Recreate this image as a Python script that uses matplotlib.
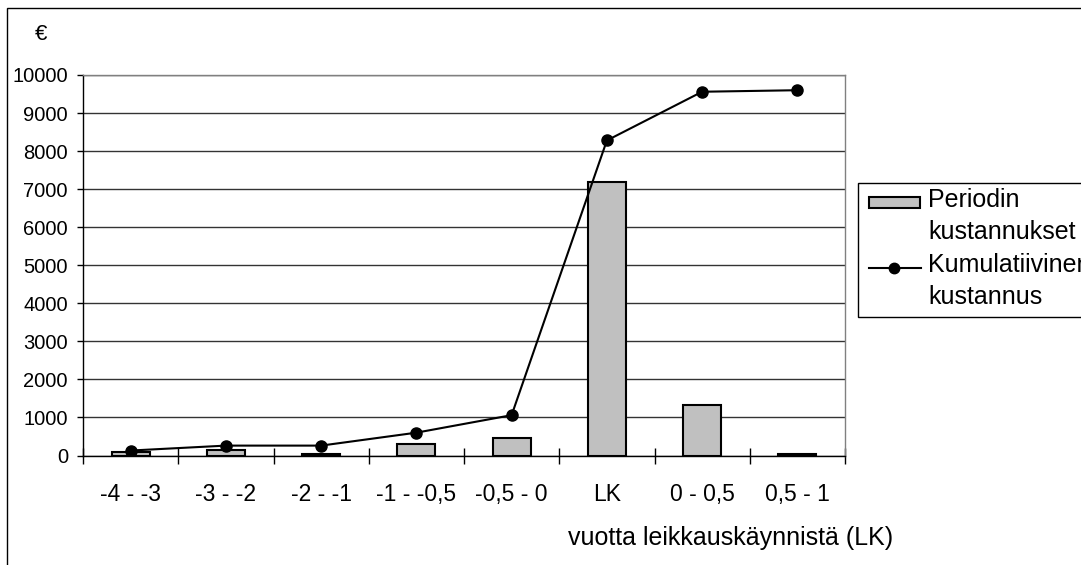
import matplotlib.pyplot as plt
from matplotlib.patches import Rectangle
from matplotlib.lines import Line2D
import numpy as np

plt.rcParams['font.family'] = ['Liberation Sans', 'DejaVu Sans']

# periods relative to the surgery visit (LK)
periods = ['-4 - -3', '-3 - -2', '-2 - -1', '-1 - -0,5', '-0,5 - 0', 'LK', '0 - 0,5', '0,5 - 1']
period_costs = [100, 150, 30, 300, 450, 7200, 1340, 40]
cumulative_cost = [130, 260, 260, 600, 1060, 8280, 9560, 9600]

W, H = 1081, 565
fig = plt.figure(figsize=(W / 100, H / 100), dpi=100)

# outer chart frame
fig.patches.append(Rectangle((7 / W, -0.1), 1.2, 1 - 8 / H + 0.1, transform=fig.transFigure,
                             fill=False, edgecolor='black', linewidth=1.0))

ax = fig.add_axes([83 / W, 1 - 455.5 / H, (845 - 83) / W, (455.5 - 75) / H])
x = np.arange(len(periods))
ax.bar(x, period_costs, width=0.4, color='#c0c0c0', edgecolor='black', linewidth=1.5, zorder=3)
ax.plot(x, cumulative_cost, color='black', linewidth=1.5, marker='o', markersize=8, zorder=4)

ax.set_xlim(-0.5, len(periods) - 0.5)
ax.set_ylim(0, 10000)
ax.set_yticks(range(0, 10001, 1000))
ax.yaxis.grid(True, color='#333333', linewidth=1.0)
ax.set_axisbelow(True)

ax.set_xticks(x)
ax.set_xticklabels(periods)
ax.set_xticks(np.arange(-0.5, len(periods)), minor=True)
ax.tick_params(axis='x', which='major', length=0, pad=20, labelsize=16.5)
ax.tick_params(axis='x', which='minor', length=11, direction='inout', width=1)
ax.tick_params(axis='y', length=4.3, width=1, pad=6.5, labelsize=14.5)

ax.spines['left'].set_color('black')
ax.spines['bottom'].set_color('black')
ax.spines['top'].set_color('#808080')
ax.spines['right'].set_color('#808080')
for s in ax.spines.values():
    s.set_linewidth(1.0)

fig.text(41 / W, 1 - 35 / H, '€', fontsize=16, ha='center', va='center')
fig.text(568 / W, 1 - 545 / H, 'vuotta leikkauskäynnistä (LK)', fontsize=18, ha='left', va='baseline')

# legend drawn by hand so the box can run past the right edge
fig.patches.append(Rectangle((858 / W, 1 - 317 / H), 0.3, (317 - 183) / H, transform=fig.transFigure,
                             fill=True, facecolor='white', edgecolor='black', linewidth=1.0))
fig.patches.append(Rectangle((869 / W, 1 - 207.5 / H), 51 / W, 10.5 / H, transform=fig.transFigure,
                             facecolor='#c0c0c0', edgecolor='black', linewidth=1.5))
fig.lines.append(Line2D([869 / W, 921 / W], [1 - 268.5 / H] * 2, transform=fig.transFigure,
                        color='black', linewidth=1.5))
fig.lines.append(Line2D([893.5 / W], [1 - 268.5 / H], transform=fig.transFigure,
                        color='black', marker='o', markersize=7.5))
for label, yb in [('Periodin', 206.5), ('kustannukset', 238.5), ('Kumulatiivinen', 272.5), ('kustannus', 303.5)]:
    fig.text(928 / W, 1 - yb / H, label, fontsize=18, ha='left', va='baseline')

fig.savefig('out.png', dpi=100)
